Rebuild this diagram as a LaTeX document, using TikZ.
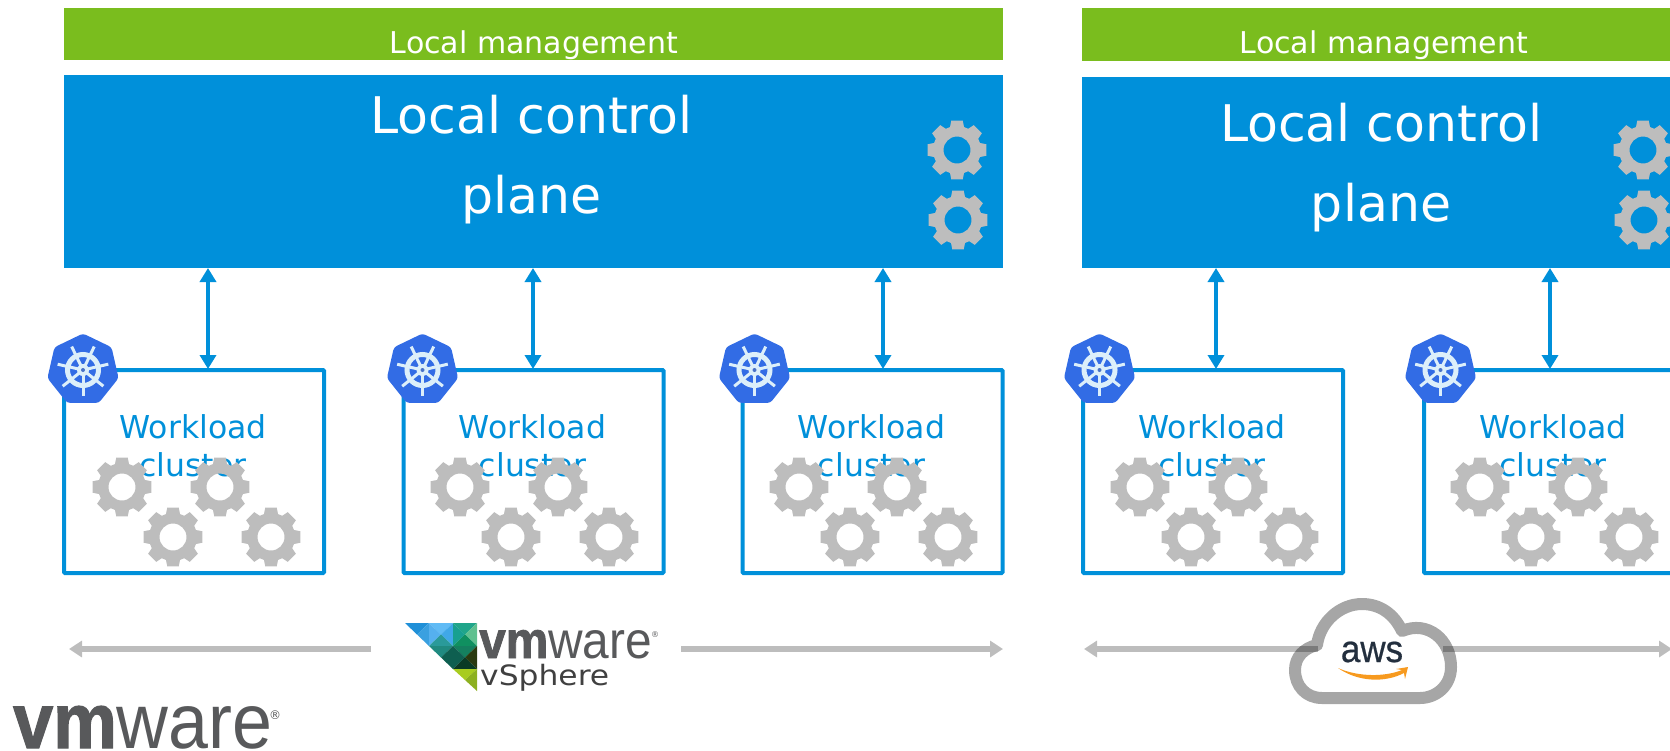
\documentclass[tikz,border=0pt]{standalone}
\usepackage{fontspec}
\setmainfont{DejaVu Sans}
\newfontfamily\spherefont{DejaVu Sans}[FakeStretch=1.12]
\newfontfamily\logofont{Liberation Sans}[FakeStretch=0.92]
\newfontfamily\awsfont{Liberation Sans}[FakeStretch=0.92,FakeBold=0.6]
\newfontfamily\logoheavy{Liberation Sans}[UprightFont=* Bold,FakeBold=1.5,FakeStretch=0.92]
\usetikzlibrary{arrows.meta,shapes.geometric}

\definecolor{mgmtgreen}{HTML}{7ABD1E}
\definecolor{planeblue}{HTML}{0090DA}
\definecolor{gearfill}{HTML}{BDBDBD}
\definecolor{kubeblue}{HTML}{326CE5}
\definecolor{wheelfill}{HTML}{DCEFFA}
\definecolor{logogrey}{HTML}{58595B}
\definecolor{awsink}{HTML}{232F3E}
\definecolor{awssmile}{HTML}{F79A1F}

\tikzset{
	mgmtbox/.style={fill=mgmtgreen,minimum width=939pt,minimum height=52pt,inner sep=0pt,outer sep=0pt},
	planebox/.style={fill=planeblue,minimum width=939pt,minimum height=193pt,inner sep=0pt,outer sep=0pt},
	clusterbox/.style={draw=planeblue,line width=4pt,rounded corners=1pt,minimum width=260pt,minimum height=203pt,inner sep=0pt,outer sep=0pt},
	mgmttext/.style={text=white,font=\fontsize{30}{30}\selectfont},
	planetext/.style={text=white,align=center,font=\fontsize{50.5}{80}\selectfont},
	clustertext/.style={text=planeblue,align=center,font=\fontsize{31.5}{38}\selectfont},
	logotext/.style={text=logogrey,inner sep=0pt,anchor=base west},
	linkarrow/.style={planeblue,line width=4.5pt,{Stealth[inset=0pt,length=14pt,width=16pt]}-{Stealth[inset=0pt,length=14pt,width=16pt]}},
	spanarrow/.style={gearfill,line width=5.5pt,-{Stealth[inset=0pt,length=13pt,width=16pt]}},
	gear/.pic={
		\fill[gearfill,even odd rule] (-17:24)
			foreach \a in {0,45,...,315} {
				-- (\a-17:24) -- (\a-11:30) -- (\a+11:30) -- (\a+17:24)
			} -- cycle (0,0) circle (13.5);
	},
	kube/.pic={
		\node[regular polygon,regular polygon sides=7,fill=kubeblue,minimum size=73pt,inner sep=0pt,rounded corners=3pt] {};
		\draw[wheelfill,line width=5pt] (0,0) circle (15.5);
		\foreach \a in {90,141.4,...,400} {
			\draw[wheelfill,line width=3pt] (\a:4) -- (\a:26);
		}
		\fill[wheelfill] (0,0) circle (6);
		\fill[kubeblue!70!gray] (0,0) circle (2);
	},
}

\begin{document}
\begin{tikzpicture}[x=1pt,y=-1pt]

\useasboundingbox (0,0) rectangle (1670,750);
\clip (0,0) rectangle (1670,750);

% top bars
\node[mgmtbox] (mgmt1) at (533.5,34) {};
\node[mgmtbox,minimum height=53pt] (mgmt2) at (1551.5,34.5) {};
\node[planebox] (plane1) at (533.5,171.5) {};
\node[planebox,minimum height=191pt] (plane2) at (1551.5,172.5) {};

\node[mgmttext] (mgmtlabel1) at (534,45) {Local management};
\node[mgmttext] (mgmtlabel2) at (1384,45) {Local management};
\node[planetext] (planelabel1) at (531.5,159.5) {Local control\\plane};
\node[planetext] (planelabel2) at (1381,167.5) {Local control\\plane};

\pic at (957,150) {gear};
\pic at (958,220) {gear};
\pic at (1643,150) {gear};
\pic at (1644,220) {gear};

% workload clusters
\foreach \i/\bx/\gx/\kx/\ax/\p in {1/194/0/83/208/1,2/533.5/338/422.5/533/1,3/872.5/677/754.5/883/1,4/1213/1018/1099.5/1216/2,5/1554/1358/1440.5/1550/2} {
	\node[clusterbox] (box\i) at (\bx,471.5) {};
	\node[clustertext] (boxlabel\i) at (\bx-1,446) {Workload\\cluster};
	\pic at ({\gx+122},487) {gear};
	\pic at ({\gx+220},487) {gear};
	\pic at ({\gx+173},537) {gear};
	\pic at ({\gx+271},537) {gear};
	\pic at (\kx,370) {kube};
	\coordinate (link\i) at (\ax,369);
	\draw[linkarrow] (link\i) -- (link\i |- plane\p.south);
}

% vSphere span
\coordinate (spanleft1) at (69,649);
\coordinate (spanstart1) at (371,649);
\coordinate (spanstart2) at (681,649);
\coordinate (spanright1) at (1003,649);
\draw[spanarrow] (spanstart1) -- (spanleft1);
\draw[spanarrow] (spanstart2) -- (spanright1);

\foreach \xa/\ya/\xb/\yb/\xc/\yc/\tone in {
	405/623/429/623/417/634.5/2090D8,429/623/429/646/417/634.5/3AA0E0,
	429/623/453/623/441/634.5/60BBF5,429/623/429/646/441/634.5/55B0EE,453/623/453/646/441/634.5/40A8E8,429/646/453/646/441/634.5/2A9A9A,
	453/623/477/623/465/634.5/20A58A,477/623/477/646/465/634.5/60C090,453/623/453/646/465/634.5/18A090,453/646/477/646/465/634.5/109060,
	429/646/453/646/441/657.5/208A80,453/646/453/669/441/657.5/0E5F50,
	453/646/477/646/465/657.5/15805F,453/646/453/669/465/657.5/0E5F50,477/646/477/669/465/657.5/2A3A10,453/669/477/669/465/657.5/0A3A25,
	453/669/477/669/465/680/A8CC20,477/669/477/691/465/680/8DB020} {
	\definecolor{tilefill}{HTML}{\tone}
	\fill[tilefill] (\xa,\ya) -- (\xb,\yb) -- (\xc,\yc) -- cycle;
}

\node[logotext] (logosmall) at (479,658) {\fontsize{52}{52}\selectfont{\logoheavy vm}{\logofont ware}};
\node[logotext] (logosmallmark) at (651,637) {\fontsize{8}{8}\selectfont ®};
\node[logotext,text=black!75!white] (vsphere) at (480,685) {\spherefont\fontsize{28}{28}\selectfont vSphere};

% aws span
\coordinate (spanleft2) at (1084,649);
\coordinate (spanstart3) at (1318,649);
\coordinate (spanstart4) at (1443,649);
\coordinate (spanright2) at (1672,649);
\draw[spanarrow] (spanstart3) -- (spanleft2);
\draw[spanarrow] (spanstart4) -- (spanright2);

\draw[black,opacity=0.35,line width=12pt,line join=round]
	(1322,698) .. controls (1306,698) and (1295,686) .. (1295,670)
	.. controls (1295,657) and (1304,648) .. (1317,645)
	.. controls (1320,622) and (1340,604) .. (1362,604)
	.. controls (1380,604) and (1394,614) .. (1402,631)
	.. controls (1428,620) and (1451,640) .. (1451,667)
	.. controls (1451,686) and (1436,698) .. (1420,698) -- cycle;
\node[text=awsink,inner sep=0pt,anchor=base,font=\awsfont\fontsize{38}{38}\selectfont] (awslabel) at (1372,662) {aws};
\fill[awssmile] (1338,668) .. controls (1358,677) and (1385,677) .. (1402,670) -- (1396,669) -- (1408,667) -- (1405,679) -- (1404,673)
	.. controls (1385,683) and (1358,682) .. (1338,668) -- cycle;

% big logo
\node[logotext] (logobig) at (13,748) {\fontsize{78}{78}\selectfont{\logoheavy vm}{\logofont ware}};
\node[logotext] (logobigmark) at (269,719) {\fontsize{12}{12}\selectfont ®};

\end{tikzpicture}
\end{document}
